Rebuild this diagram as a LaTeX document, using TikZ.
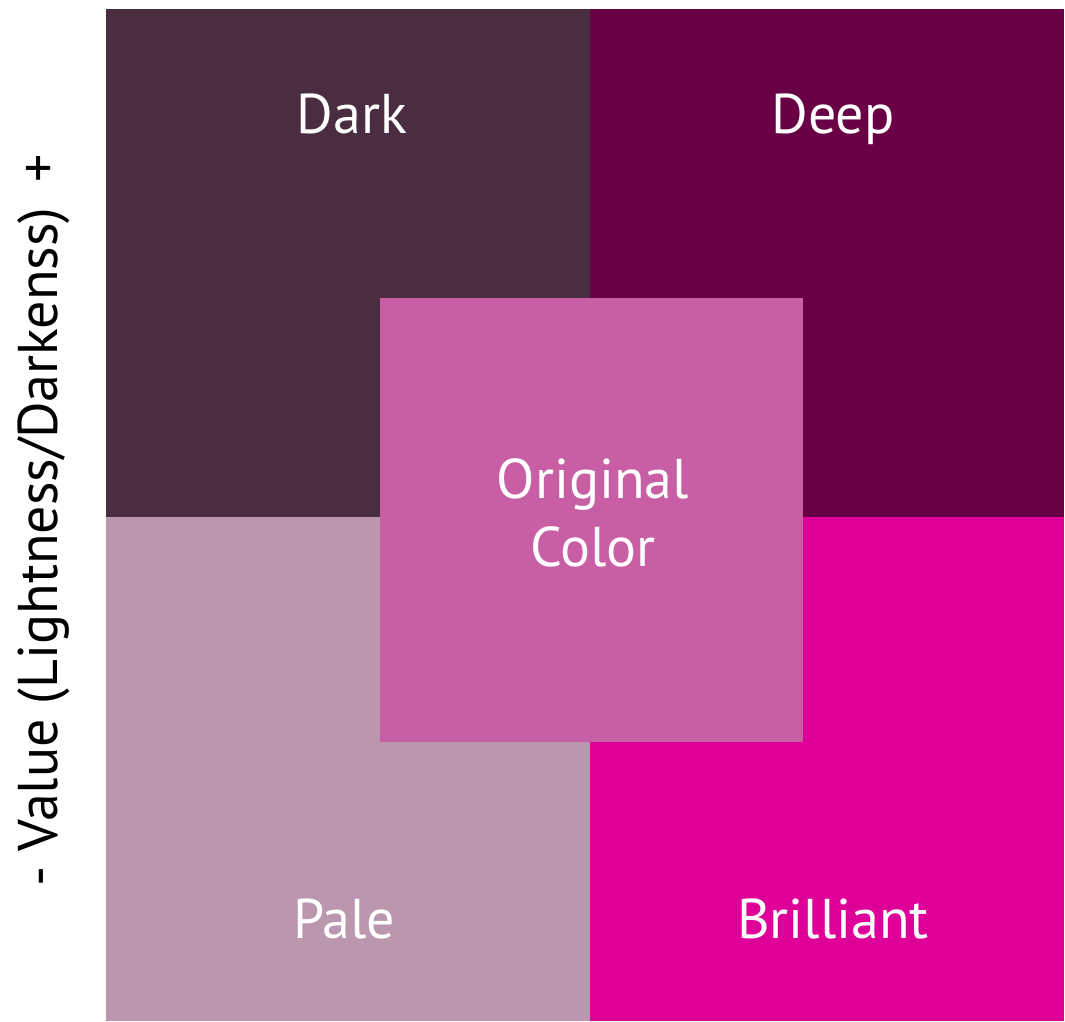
\documentclass[tikz,border=0pt]{standalone}
\usepackage{fontspec}
\setmainfont{PT Sans}
\definecolor{cDark}{HTML}{4B2D42}
\definecolor{cDeep}{HTML}{690045}
\definecolor{cPale}{HTML}{BA96AF}
\definecolor{cBril}{HTML}{DF0099}
\definecolor{cOrig}{HTML}{C85FA5}
\tikzset{
  lbl/.style={text=white, font=\fontsize{42}{51}\selectfont, anchor=base, inner sep=0pt},
  axis/.style={text=black, font=\fontsize{42}{51}\selectfont, anchor=base, inner sep=0pt, rotate=90}
}
\begin{document}
\begin{tikzpicture}[x=0.75pt,y=-0.75pt]
\useasboundingbox (0,0) rectangle (1065,1022);
\fill[white] (0,0) rectangle (1065,1022);
\fill[cDark] (106,9) rectangle (590,517);
\fill[cDeep] (590,9) rectangle (1064,517);
\fill[cPale] (106,517) rectangle (590,1021);
\fill[cBril] (590,517) rectangle (1064,1021);
\fill[cOrig] (380,298) rectangle (803,742);
\node[lbl] (dark) at (352,133) {Dark};
\node[lbl] (deep) at (833,133) {Deep};
\node[lbl] (pale) at (344,938) {Pale};
\node[lbl] (bril) at (833,938) {Brilliant};
\node[lbl] (orig1) at (593,498) {Original};
\node[lbl] (orig2) at (593,566) {Color};
\node[axis] (axis) at (57,520) {- Value (Lightness/Darkenss)\hspace{0.45em}+};
\end{tikzpicture}
\end{document}
